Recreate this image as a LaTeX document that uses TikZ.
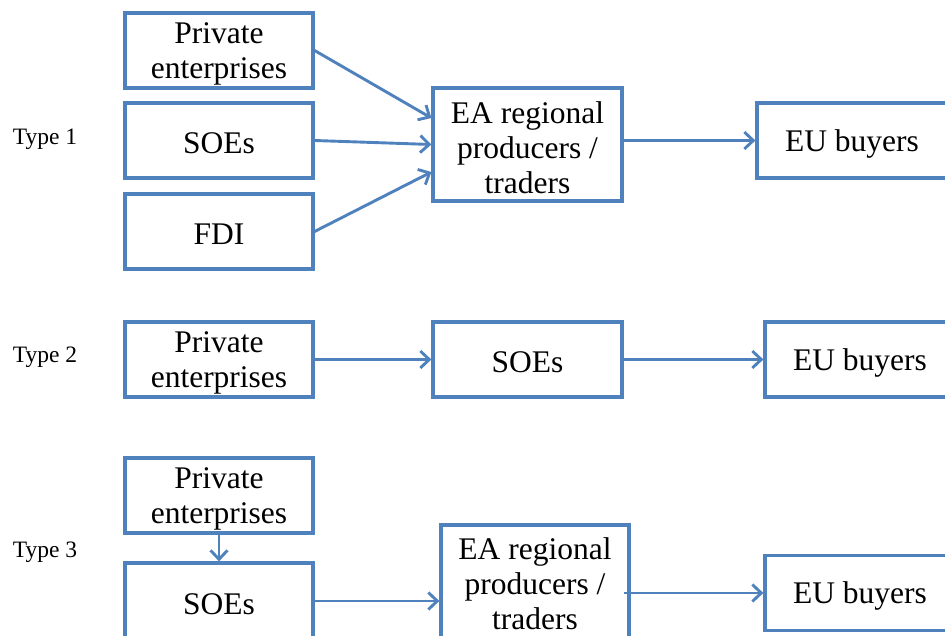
\documentclass[tikz,border=0pt]{standalone}
\usepackage{fontspec}
\setmainfont{Liberation Serif}
\usetikzlibrary{arrows.meta,calc}
\definecolor{bblue}{HTML}{4F81BD}
\tikzset{
  boxs/.style 2 args={draw=bblue, line width=3.2pt, fill=white, minimum width=188pt, minimum height=75pt, inner sep=0pt,
    label={[align=center, inner sep=0pt, yshift=#2, font=\fontsize{31.5}{35}\selectfont]center:#1}},
  box/.style={boxs={#1}{-3pt}},
  conn/.style={draw=bblue, line width=2.9pt, -{Straight Barb[length=9pt,width=17pt,line width=2.9pt]}},
  typelbl/.style={font=\fontsize{23.5}{27}\selectfont, inner sep=0pt}
}
\begin{document}
\begin{tikzpicture}[x=1pt,y=-1pt]
\useasboundingbox (0,0) rectangle (945,636);
\clip (0,0) rectangle (945,636);
% Type 1
\node[typelbl] (t1) at (45,139) {Type 1};
\node[box={Private\\enterprises}] (pe1) at (219,50.5) {};
\node[box={SOEs}] (soe1) at (219,140.5) {};
\node[box={FDI}] (fdi1) at (219,231.5) {};
\node[box={EA regional\\producers /\\traders}, minimum width=189pt, minimum height=113pt] (ea1) at (527.5,144.5) {};
\node[box={EU buyers}, minimum width=190pt] (eu1) at (852,140.5) {};
\draw[conn] (pe1.east) -- ([yshift=26.5pt]ea1.west);
\draw[conn] (soe1.east) -- (ea1.west);
\draw[conn] (fdi1.east) -- ([yshift=-27.5pt]ea1.west);
\draw[conn] (ea1.east |- eu1.west) -- (eu1.west);
% Type 2
\node[typelbl] (t2) at (45,357) {Type 2};
\node[box={Private\\enterprises}] (pe2) at (219,359.5) {};
\node[box={SOEs}, minimum width=189pt] (soe2) at (527.5,359.5) {};
\node[box={EU buyers}, minimum width=190pt] (eu2) at (860,359.5) {};
\draw[conn] (pe2.east) -- (soe2.west);
\draw[conn] (soe2.east) -- (eu2.west);
% Type 3
\node[typelbl] (t3) at (45,552) {Type 3};
\node[box={Private\\enterprises}] (pe3) at (219,495.5) {};
\node[box={SOEs}, minimum height=76pt] (soe3) at (219,601) {};
\node[boxs={EA regional\\producers /\\traders}{1.5pt}, minimum width=188pt, minimum height=120pt] (ea3) at (535,585) {};
\node[box={EU buyers}, minimum width=190pt] (eu3) at (860,593) {};
\draw[conn] (pe3.south) -- (soe3.north);
\draw[conn] (soe3.east) -- (ea3.west |- soe3.east);
\draw[conn] ([xshift=-7pt]ea3.east |- eu3.west) -- (eu3.west);
\end{tikzpicture}
\end{document}
